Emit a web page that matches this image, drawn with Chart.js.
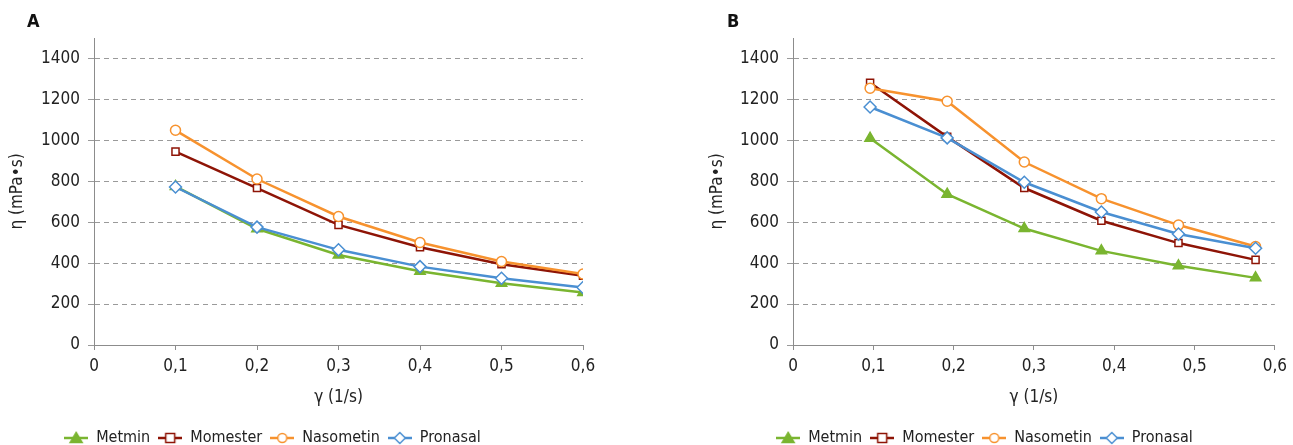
<!DOCTYPE html>
<html>
<head>
<meta charset="utf-8">
<script src="https://cdn.jsdelivr.net/npm/chart.js@4/dist/chart.umd.min.js"></script>
<style>
  body { margin: 0; background: #fff; width: 1293px; height: 445px; position: relative; overflow: hidden; }
  .panel { position: absolute; top: 0; height: 445px; }
  #pa { left: 0; width: 610px; }
  #pb { left: 700px; width: 593px; }
</style>
</head>
<body>
<div class="panel" id="pa"><canvas id="chartA"></canvas></div>
<div class="panel" id="pb"><canvas id="chartB"></canvas></div>
<script>
// data
const seriesNames = ["Metmin", "Momester", "Nasometin", "Pronasal"];

const shearA = [0.1, 0.2, 0.3, 0.4, 0.5, 0.6];
const metminA = [775, 568, 440, 360, 302, 256];
const momesterA = [945, 767, 587, 478, 395, 338];
const nasometinA = [1049, 811, 628, 501, 408, 347];
const pronasalA = [772, 576, 465, 383, 326, 281];

const shearB = [0.096, 0.192, 0.288, 0.384, 0.48, 0.576];
const metminB = [1010, 737, 569, 460, 387, 328];
const momesterB = [1281, 1017, 767, 607, 498, 416];
const nasometinB = [1255, 1191, 894, 715, 586, 481];
const pronasalB = [1163, 1012, 795, 650, 542, 473];

const yTicks = [0, 200, 400, 600, 800, 1000, 1200, 1400];
const xTicks = [0, 0.1, 0.2, 0.3, 0.4, 0.5, 0.6];

const colors = ["#7ab530", "#8e1406", "#f7922e", "#4a8fd2"];
const markers = ["triangle", "rect", "circle", "rectRot"];
const FONT = "'DejaVu Sans Condensed', 'Liberation Sans Narrow', sans-serif";

function legendIcon(i) {
  const c = document.createElement("canvas");
  c.width = 24; c.height = 14;
  const g = c.getContext("2d");
  g.strokeStyle = colors[i]; g.lineWidth = 2.5;
  g.beginPath(); g.moveTo(0, 7); g.lineTo(24, 7); g.stroke();
  g.lineWidth = 1.5;
  g.fillStyle = markers[i] === "triangle" ? colors[i] : "#fff";
  g.beginPath();
  if (markers[i] === "triangle") { g.moveTo(12, 1.5); g.lineTo(18, 11.5); g.lineTo(6, 11.5); g.closePath(); }
  else if (markers[i] === "rect") { g.rect(7.5, 2.5, 9, 9); }
  else if (markers[i] === "circle") { g.arc(12, 7, 4.5, 0, Math.PI * 2); }
  else { g.moveTo(12, 1.5); g.lineTo(17.5, 7); g.lineTo(12, 12.5); g.lineTo(6.5, 7); g.closePath(); }
  g.fill(); g.stroke();
  return c;
}
const icons = seriesNames.map((n, i) => legendIcon(i));

const radii = { triangle: 6, rect: 5, circle: 5, rectRot: 6 };

function makeSets(xs, lists) {
  return lists.map((vals, i) => ({
    label: seriesNames[i],
    data: vals.map((v, j) => ({ x: xs[j], y: v })),
    borderColor: colors[i],
    backgroundColor: markers[i] === "triangle" ? colors[i] : "#fff",
    pointBorderColor: colors[i],
    pointBackgroundColor: markers[i] === "triangle" ? colors[i] : "#fff",
    pointStyle: markers[i],
    pointRadius: radii[markers[i]],
    pointBorderWidth: 1.5,
    borderWidth: 2.5,
    order: 4 - i,
    showLine: true,
    tension: 0
  }));
}

const panelPlugin = {
  id: "panelExtras",
  beforeLayout(chart, args, opts) {
    const lg = chart.legend;
    if (lg && !lg._fixedFit) {
      const fit = lg.fit;
      lg.fit = function () { fit.call(this); this.height = opts.legendHeight; };
      lg._fixedFit = true;
    }
  },
  afterLayout(chart, args, opts) {
    if (opts.legendShift) {
      chart.legend.left += opts.legendShift;
      chart.legend.right += opts.legendShift;
    }
  },
  afterDraw(chart, args, opts) {
    const ctx = chart.ctx;
    ctx.save();
    ctx.font = "bold 18px " + FONT;
    ctx.fillStyle = "#111";
    ctx.textBaseline = "middle";
    ctx.fillText(opts.letter, 27, 22);
    ctx.restore();
  }
};

function makeChart(id, xs, lists, letter, axisWidth, rightPad, legendShift) {
  return new Chart(document.getElementById(id), {
    type: "line",
    data: { datasets: makeSets(xs, lists) },
    plugins: [panelPlugin],
    options: {
      responsive: true,
      maintainAspectRatio: false,
      animation: false,
      layout: { padding: { top: 38, right: rightPad, bottom: 0, left: 0 } },
      plugins: {
        panelExtras: { letter: letter, legendShift: legendShift, legendHeight: 23 },
        tooltip: { enabled: false },
        legend: {
          position: "bottom",
          labels: {
            font: { family: FONT, size: 16 },
            color: "#222",
            usePointStyle: true,
            pointStyleWidth: 24,
            boxHeight: 14,
            padding: 8,
            generateLabels: (chart) => seriesNames.map((n, i) => ({
              text: n, pointStyle: icons[i], datasetIndex: i,
              fillStyle: colors[i], strokeStyle: colors[i], lineWidth: 0, fontColor: "#222"
            }))
          }
        }
      },
      scales: {
        x: {
          type: "linear",
          min: 0, max: 0.6,
          afterBuildTicks: (s) => { s.ticks = xTicks.map(v => ({ value: v })); },
          afterFit: (s) => { s.height = 77; },
          ticks: {
            font: { family: FONT, size: 17 }, color: "#222", padding: 6,
            callback: (v) => String(Math.round(v * 10) / 10).replace(".", ",")
          },
          grid: { drawOnChartArea: false, drawTicks: true, tickLength: 5, color: "#8c8c8c" },
          border: { color: "#8c8c8c", width: 1 },
          title: { display: true, text: "γ (1/s)", font: { family: FONT, size: 17 }, color: "#222", padding: { top: 2, bottom: 14 } }
        },
        y: {
          min: 0, max: 1500,
          afterBuildTicks: (s) => { s.ticks = yTicks.map(v => ({ value: v })); },
          afterFit: (s) => { s.width = axisWidth; },
          ticks: { font: { family: FONT, size: 17 }, color: "#222", padding: 8, callback: (v) => String(v) },
          grid: {
            color: (c) => c.tick && c.tick.value === 0 ? "rgba(0,0,0,0)" : "#9a9a9a",
            tickColor: "#9a9a9a", tickLength: 6, lineWidth: 1
          },
          border: { color: "#8c8c8c", width: 1, dash: [5, 4] },
          title: { display: true, text: "η (mPa•s)", font: { family: FONT, size: 17 }, color: "#222", padding: { top: 7, bottom: 0 } }
        }
      }
    }
  });
}

makeChart("chartA", shearA, [metminA, momesterA, nasometinA, pronasalA], "A", 94, 27, -19);
makeChart("chartB", shearB, [metminB, momesterB, nasometinB, pronasalB], "B", 93, 18, -3);
</script>
</body>
</html>
